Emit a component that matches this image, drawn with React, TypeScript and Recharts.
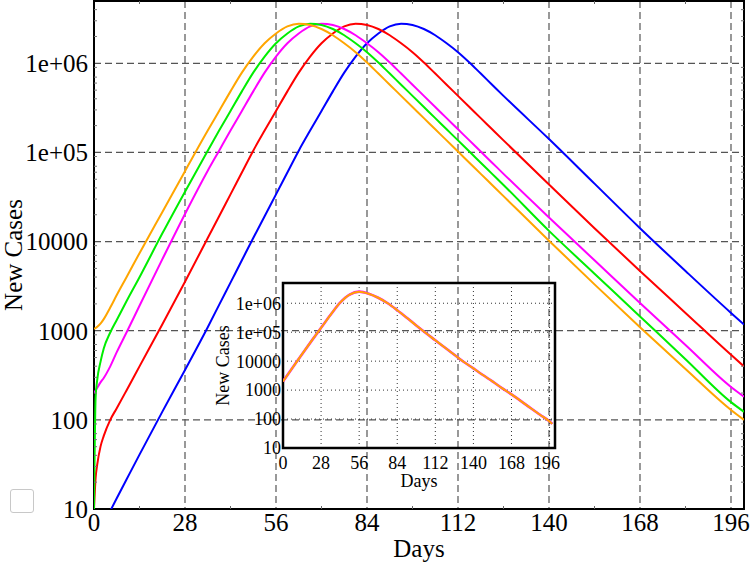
import {
  LineChart,
  Line,
  XAxis,
  YAxis,
  CartesianGrid,
  ReferenceArea,
  Label
} from 'recharts'

// days since start, shared by the five main curves
const days = [
  0, 0.5, 1, 2, 3, 5, 7, 10, 14, 21, 28, 35, 38.5, 42, 45.5, 49, 52.5, 56, 59.5, 63, 66.5, 70, 73.5,
  77, 80.5, 84, 87.5, 91, 94.5, 98, 101.5, 105, 108.5, 112, 115.5, 119, 122.5, 126, 140, 154, 168,
  182, 196, 200
]

const orangeCases = [
  1047, 1072, 1109, 1202, 1349, 1820, 2512, 3981, 7413, 21380, 61660, 175800, 291700, 484200,
  785200, 1189000, 1679000, 2163000, 2600000, 2786000, 2692000, 2427000, 2065000, 1679000, 1334000,
  1023000, 767400, 575400, 431500, 323600, 242700, 182000, 136500, 102300, 76740, 57540, 43150,
  32360, 10230, 3311, 1096, 372, 129, 100
]
const greenCases = [
  10, 178, 282, 447, 631, 955, 1318, 2138, 3981, 12300, 36310, 104700, 175800, 291700, 484200,
  785200, 1189000, 1679000, 2163000, 2600000, 2786000, 2692000, 2427000, 2065000, 1679000, 1334000,
  1023000, 767400, 575400, 431500, 323600, 242700, 182000, 136500, 102300, 76740, 57540, 43150,
  13180, 4365, 1445, 479, 158, 123
]
const magentaCases = [
  200, 214, 229, 263, 295, 398, 575, 955, 1905, 6310, 20420, 62370, 104700, 175800, 291700, 484200,
  785200, 1189000, 1679000, 2163000, 2600000, 2786000, 2692000, 2427000, 2065000, 1679000, 1334000,
  1023000, 767400, 575400, 431500, 323600, 242700, 182000, 136500, 102300, 76740, 57540, 18620,
  6166, 2042, 692, 234, 182
]
const redCases = [
  10, 22.4, 31.6, 50.1, 66.1, 100, 135, 214, 398, 1175, 3548, 10960, 19280, 33880, 59570, 104700,
  175800, 291700, 484200, 785200, 1189000, 1679000, 2163000, 2600000, 2786000, 2692000, 2427000,
  2065000, 1679000, 1334000, 1023000, 767400, 575400, 431500, 323600, 242700, 182000, 136500, 43650,
  14130, 4677, 1585, 537, 398
]
const blueCases = [
  null, null, null, null, null, 9.5, 13.2, 21.4, 40.7, 123, 363, 1096, 1950, 3467, 6166, 10960,
  19280, 33880, 59570, 104700, 175800, 291700, 484200, 785200, 1189000, 1679000, 2163000, 2600000,
  2786000, 2692000, 2427000, 2065000, 1679000, 1334000, 1023000, 767400, 575400, 431500, 141300,
  44670, 14130, 4677, 1585, 1175
]

// inset: single fitted curve
const insetDays = [
  0, 7, 14, 21, 28, 35, 42, 49, 56, 63, 70, 77, 84, 91, 98, 105, 112, 119, 126, 133, 140, 147, 154,
  161, 168, 175, 182, 189, 196, 198
]
const insetCases = [
  2000, 5890, 17380, 50120, 141300, 398100, 1047000, 1995000, 2512000, 2138000, 1549000, 1000000,
  575400, 316200, 169800, 93330, 52480, 29510, 16600, 9333, 5623, 3311, 1995, 1175, 708, 417, 240,
  141, 83, 68
]

const xTicks = [0, 28, 56, 84, 112, 140, 168, 196]
const xMinorTicks = [14, 42, 70, 98, 126, 154, 182]
const yTicks = [10, 100, 1000, 10000, 100000, 1000000]
const yTickLabels = ['10', '100', '1000', '10000', '1e+05', '1e+06']
const minorMultipliers = [2, 3, 4, 5, 6, 7, 8, 9]
const yMinorTicks = yTicks.flatMap((d) => minorMultipliers.map((m) => m * d)).filter((v) => v < 5000000)

const mainData = days.map((day, i) => ({
  day,
  orange: orangeCases[i],
  green: greenCases[i],
  magenta: magentaCases[i],
  red: redCases[i],
  blue: blueCases[i]
}))
const insetData = insetDays.map((day, i) => ({ day, cases: insetCases[i] }))

const FONT = '"Liberation Serif", "Times New Roman", serif'
const fmtY = (v: number) => yTickLabels[yTicks.indexOf(v)] ?? String(v)
const blank = () => ''

export default function App() {
  return (
    <div style={{ position: 'absolute', left: 0, top: 0, width: 750, height: 563, background: '#fff' }}>
      <LineChart
        width={750}
        height={563}
        data={mainData}
        margin={{ top: 1, right: 6, bottom: 0, left: 0 }}
      >
        <CartesianGrid stroke="#555" strokeDasharray="7 4" strokeWidth={1.2} />
        <XAxis
          dataKey="day"
          type="number"
          domain={[0, 200]}
          ticks={xTicks}
          allowDataOverflow
          height={54}
          axisLine={false}
          tickLine={false}
          tickSize={0}
          tickMargin={4}
          tick={{ fontSize: 25, fill: '#000', fontFamily: FONT }}
        >
          <Label
            value="Days"
            position="insideBottom"
            offset={6}
            style={{ fontSize: 25, fill: '#000', fontFamily: FONT }}
          />
        </XAxis>
        {/* small minor tick marks on the frame */}
        <XAxis
          xAxisId="minorBottom"
          dataKey="day"
          type="number"
          domain={[0, 200]}
          ticks={xMinorTicks}
          allowDataOverflow
          mirror
          height={1}
          axisLine={false}
          tickSize={3}
          tickLine={{ stroke: '#666' }}
          tickFormatter={blank}
        />
        <XAxis
          xAxisId="minorTop"
          orientation="top"
          dataKey="day"
          type="number"
          domain={[0, 200]}
          ticks={xMinorTicks}
          allowDataOverflow
          mirror
          height={1}
          axisLine={false}
          tickSize={3}
          tickLine={{ stroke: '#666' }}
          tickFormatter={blank}
        />
        <YAxis
          scale="log"
          domain={[10, 5000000]}
          ticks={yTicks}
          allowDataOverflow
          width={94}
          axisLine={false}
          tickLine={false}
          tickSize={0}
          tickMargin={6}
          tickFormatter={fmtY}
          tick={{ fontSize: 25, fill: '#000', fontFamily: FONT }}
        >
          <Label
            value="New Cases"
            angle={-90}
            position="insideLeft"
            offset={13}
            style={{ fontSize: 25, fill: '#000', fontFamily: FONT, textAnchor: 'middle' }}
          />
        </YAxis>
        <YAxis
          yAxisId="minorLeft"
          scale="log"
          domain={[10, 5000000]}
          ticks={yMinorTicks}
          allowDataOverflow
          mirror
          width={1}
          axisLine={false}
          tickSize={3}
          tickLine={{ stroke: '#777' }}
          tickFormatter={blank}
        />
        <YAxis
          yAxisId="minorRight"
          orientation="right"
          scale="log"
          domain={[10, 5000000]}
          ticks={yMinorTicks}
          allowDataOverflow
          mirror
          width={1}
          axisLine={false}
          tickSize={3}
          tickLine={{ stroke: '#777' }}
          tickFormatter={blank}
        />
        <ReferenceArea
          x1={0}
          x2={200}
          y1={10}
          y2={5000000}
          fill="none"
          stroke="#000"
          strokeWidth={2}
          ifOverflow="visible"
        />
        <Line dataKey="blue" type="monotone" stroke="#0000ff" strokeWidth={2} dot={false} isAnimationActive={false} />
        <Line dataKey="red" type="monotone" stroke="#ff0000" strokeWidth={2} dot={false} isAnimationActive={false} />
        <Line dataKey="magenta" type="monotone" stroke="#ff00ff" strokeWidth={2} dot={false} isAnimationActive={false} />
        <Line dataKey="green" type="monotone" stroke="#00ee00" strokeWidth={2} dot={false} isAnimationActive={false} />
        <Line dataKey="orange" type="monotone" stroke="#ffa500" strokeWidth={2} dot={false} isAnimationActive={false} />
      </LineChart>

      {/* empty legend box */}
      <div
        style={{
          position: 'absolute',
          left: 10,
          top: 489,
          width: 22,
          height: 22,
          border: '1px solid #c8c8c8',
          borderRadius: 3,
          background: '#fff'
        }}
      />

      {/* inset */}
      <div style={{ position: 'absolute', left: 200, top: 270 }}>
        <LineChart
          width={360}
          height={222}
          data={insetData}
          margin={{ top: 13, right: 5, bottom: 0, left: 0 }}
        >
          <CartesianGrid stroke="#333" strokeDasharray="1 3" strokeWidth={1} />
          <XAxis
            dataKey="day"
            type="number"
            domain={[0, 200]}
            ticks={xTicks}
            allowDataOverflow
            height={44}
            axisLine={false}
            tickLine={false}
            tickSize={0}
            tickMargin={8}
            tick={{ fontSize: 18, fill: '#000', fontFamily: FONT }}
          >
            <Label
              value="Days"
              position="insideBottom"
              offset={5}
              style={{ fontSize: 18, fill: '#000', fontFamily: FONT }}
            />
          </XAxis>
          <YAxis
            scale="log"
            domain={[10, 5000000]}
            ticks={yTicks}
            allowDataOverflow
            width={83}
            axisLine={false}
            tickLine={false}
            tickSize={0}
            tickMargin={2}
            tickFormatter={fmtY}
            tick={{ fontSize: 18, fill: '#000', fontFamily: FONT }}
          >
            <Label
              value="New Cases"
              angle={-90}
              position="insideLeft"
              offset={23}
              style={{ fontSize: 18, fill: '#000', fontFamily: FONT, textAnchor: 'middle' }}
            />
          </YAxis>
          <ReferenceArea
            x1={0}
            x2={200}
            y1={10}
            y2={5000000}
            fill="none"
            stroke="#000"
            strokeWidth={2.5}
            ifOverflow="visible"
          />
          <Line dataKey="cases" type="monotone" stroke="#ff00ff" strokeWidth={2.6} dot={false} isAnimationActive={false} />
          <Line dataKey="cases" type="monotone" stroke="#ffa500" strokeWidth={2} dot={false} isAnimationActive={false} />
        </LineChart>
      </div>
    </div>
  )
}
